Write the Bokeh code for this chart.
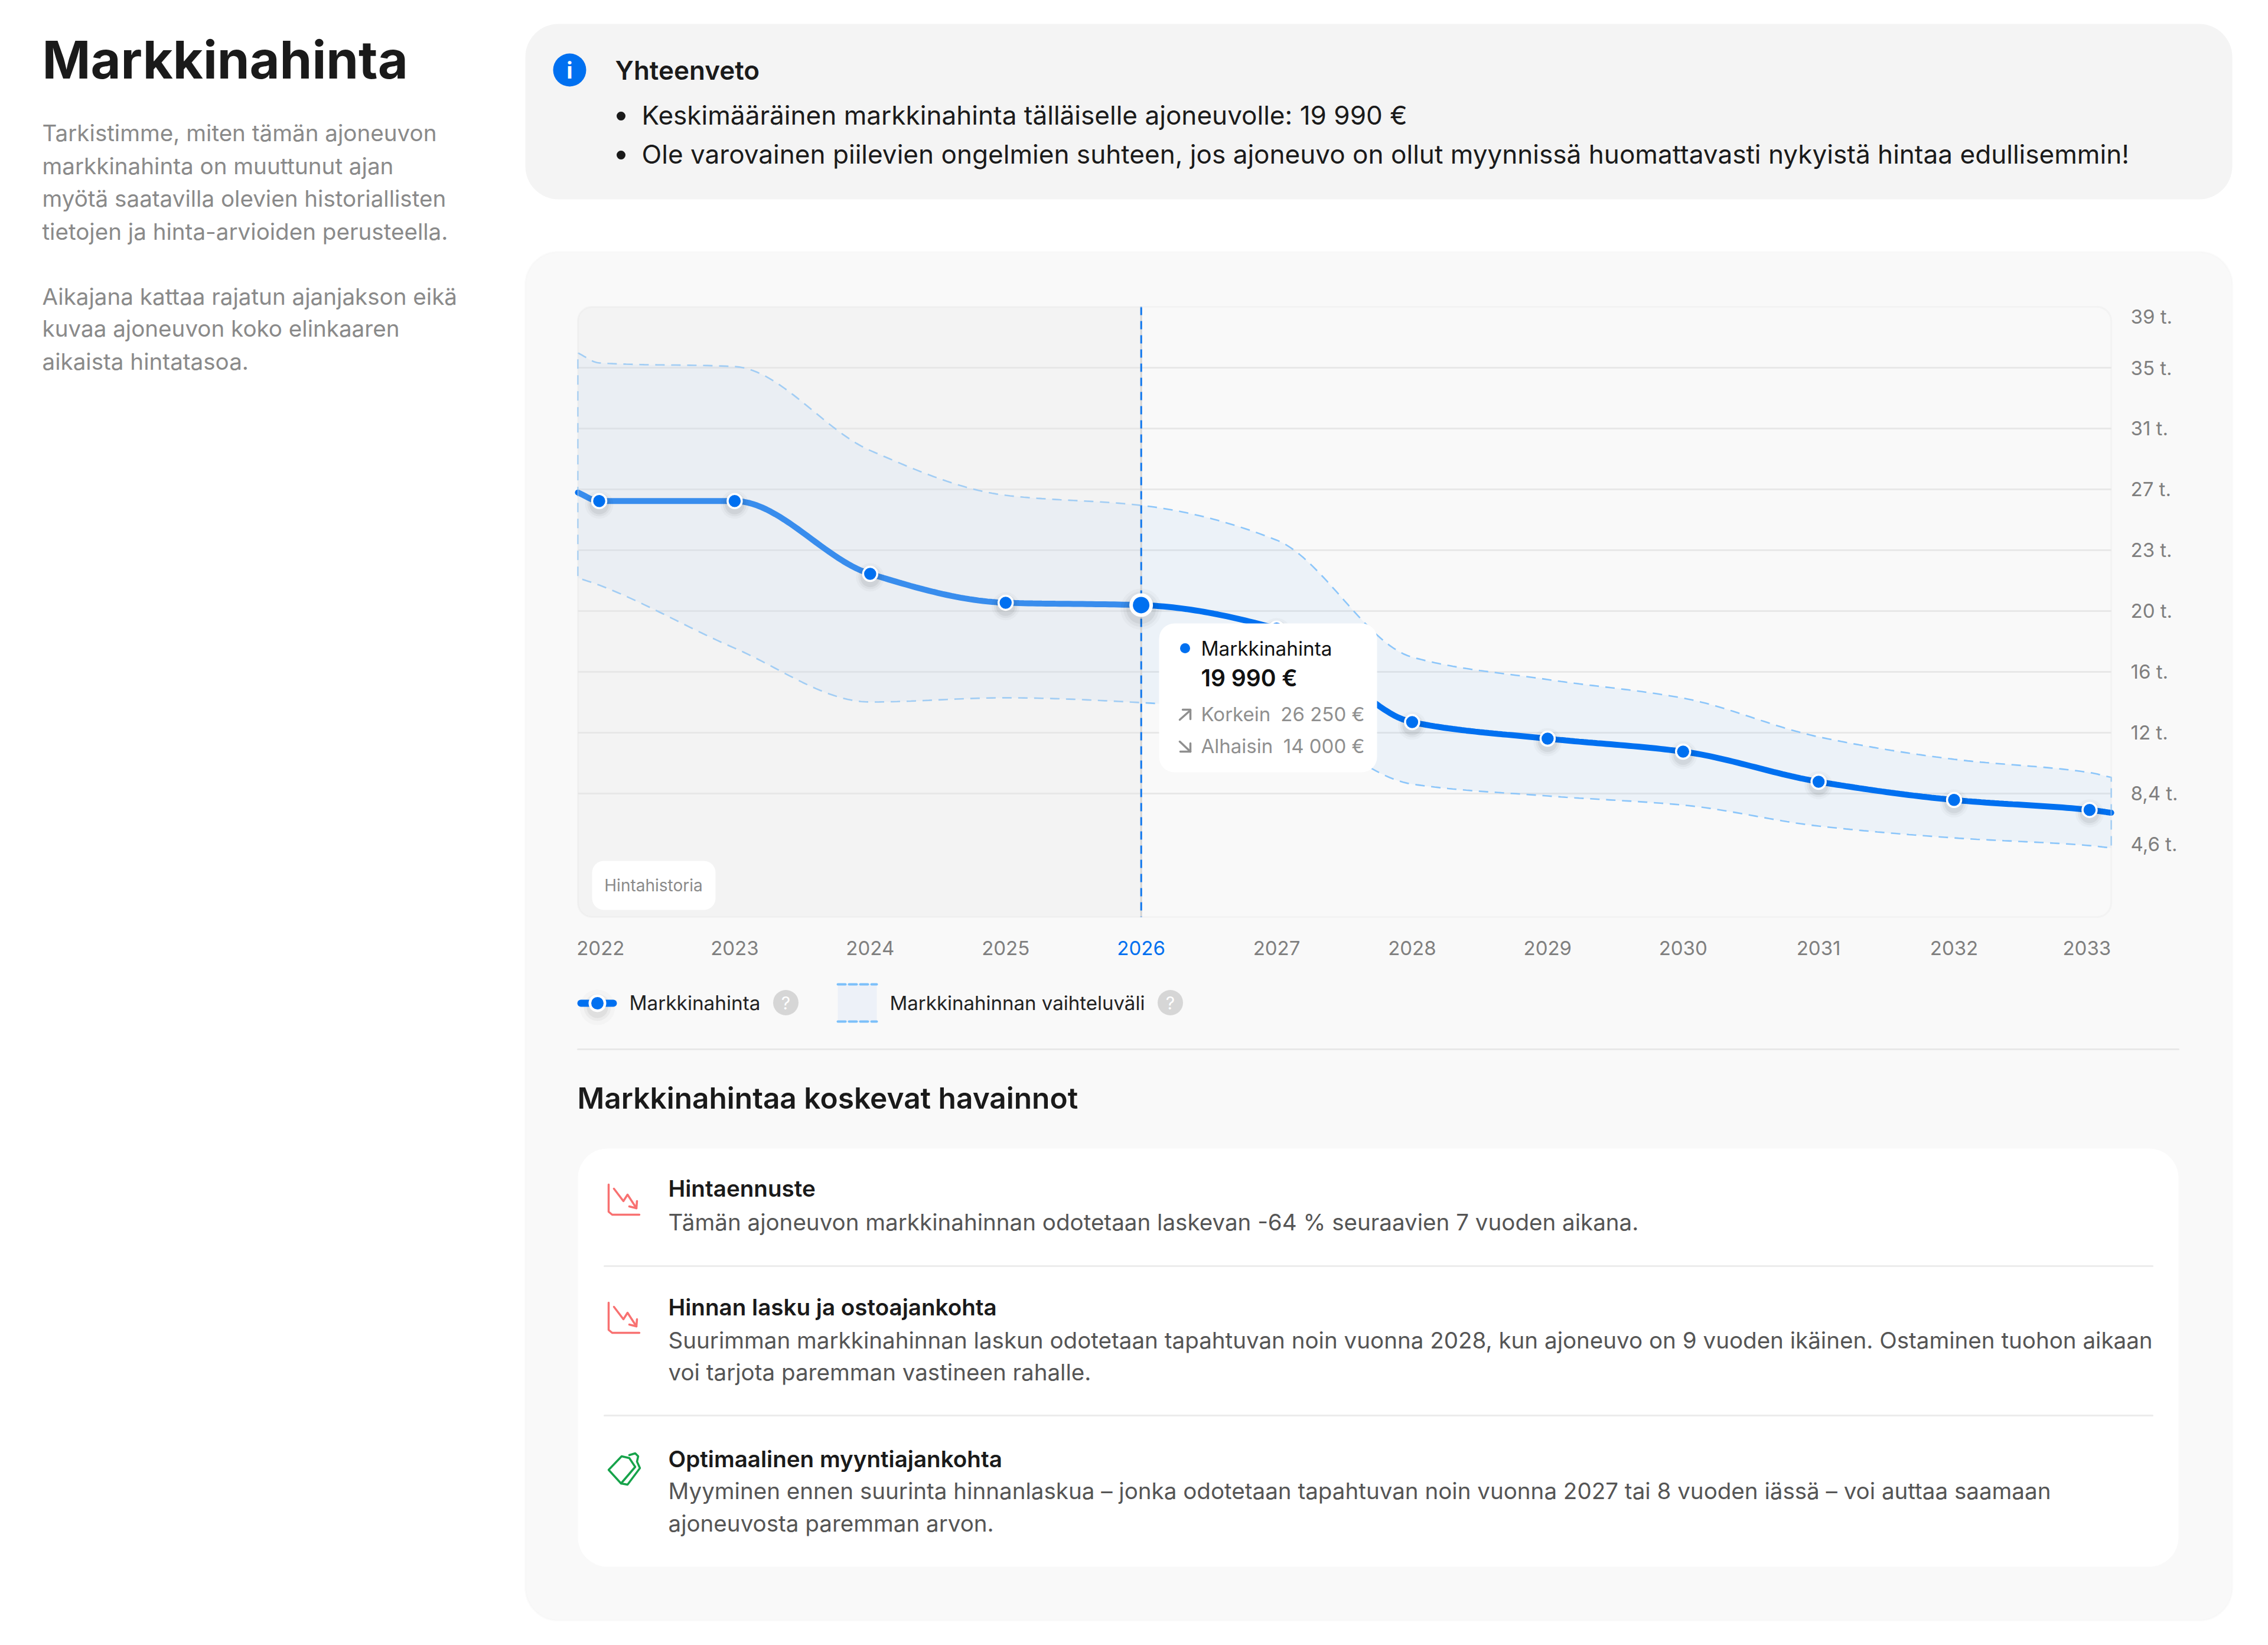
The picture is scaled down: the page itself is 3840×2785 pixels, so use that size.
import numpy as np
from bokeh.core.properties import value
from bokeh.plotting import figure
from bokeh.models import Range1d, LinearAxis, FixedTicker, BoxAnnotation
from bokeh.embed import file_html
from bokeh.resources import INLINE

# ---- chart data (thousand euro) ----
years = [2022, 2023, 2024, 2025, 2026, 2027, 2028, 2029, 2030, 2031, 2032, 2033]
price = [26.67, 26.67, 22.12, 20.32, 20.17, 18.7, 12.86, 11.83, 11.02, 9.14, 8.0, 7.38]
band_high = [35.30, 35.07, 29.83, 27.03, 26.40, 24.23, 16.92, 15.52, 14.36, 11.94, 10.54, 9.71]
band_low = [21.42, 17.48, 14.12, 14.38, 14.08, 13.12, 8.99, 8.25, 7.68, 6.37, 5.63, 5.15]
current_year = 2026
# where each curve meets the frame, left and right of the first and last year
edge_years = [2021.843, 2033.16]
price_edges = [27.2, 7.2]
high_edges = [35.92, 9.41]
low_edges = [21.87, 5.0]

grid_values = [35, 31.2, 27.4, 23.6, 19.8, 16, 12.2, 8.4]
# 39 t. and 4,6 t. labels sit slightly inside the frame in the picture
ytick_values = [38.2, 35, 31.2, 27.4, 23.6, 19.8, 16, 12.2, 8.4, 5.23]
ytick_labels = ["39 t.", "35 t.", "31 t.", "27 t.", "23 t.", "20 t.", "16 t.", "12 t.", "8,4 t.", "4,6 t."]
# the first and last year labels are nudged inside the frame in the picture
xtick_values = [2022.01, 2023, 2024, 2025, 2027, 2028, 2029, 2030, 2031, 2032, 2032.98]
xtick_labels = ["2022", "2023", "2024", "2025", "2027", "2028", "2029", "2030", "2031", "2032", "2033"]

title = "Markkinahinta"
intro = ["Tarkistimme, miten tämän ajoneuvon", "markkinahinta on muuttunut ajan",
         "myötä saatavilla olevien historiallisten", "tietojen ja hinta-arvioiden perusteella."]
intro_ys = [224, 280, 335, 391]
intro2 = ["Aikajana kattaa rajatun ajanjakson eikä", "kuvaa ajoneuvon koko elinkaaren", "aikaista hintatasoa."]
intro2_ys = [501, 555, 611]
summary_head = "Yhteenveto"
summary = ["Keskimääräinen markkinahinta tälläiselle ajoneuvolle: 19 990 €",
           "Ole varovainen piilevien ongelmien suhteen, jos ajoneuvo on ollut myynnissä huomattavasti nykyistä hintaa edullisemmin!"]
legend_a = "Markkinahinta"
legend_b = "Markkinahinnan vaihteluväli"
chip = "Hintahistoria"
tip_title, tip_value = "Markkinahinta", "19 990 €"
tip_high, tip_high_v = "Korkein", "26 250 €"
tip_low, tip_low_v = "Alhaisin", "14 000 €"
findings_head = "Markkinahintaa koskevat havainnot"
findings = [
    ("Hintaennuste", 2011, ["Tämän ajoneuvon markkinahinnan odotetaan laskevan -64 % seuraavien 7 vuoden aikana."], [2068]),
    ("Hinnan lasku ja ostoajankohta", 2212,
     ["Suurimman markkinahinnan laskun odotetaan tapahtuvan noin vuonna 2028, kun ajoneuvo on 9 vuoden ikäinen. Ostaminen tuohon aikaan",
      "voi tarjota paremman vastineen rahalle."], [2268, 2322]),
    ("Optimaalinen myyntiajankohta", 2469,
     ["Myyminen ennen suurinta hinnanlaskua – jonka odotetaan tapahtuvan noin vuonna 2027 tai 8 vuoden iässä – voi auttaa saamaan",
      "ajoneuvosta paremman arvon."], [2523, 2578]),
]

# ---- layout constants (page pixels) ----
W, H = 3824, 2769
BLUE = "#0070f0"
FONT = "Inter"
SEMI = "Inter SemiBold"
L, R, T, B = 978, 3574, 519, 1552
PX_PER_YEAR = 229.4
PX_PER_K = 27.105


def yr(X):
    return 2022 + (X - 1014) / PX_PER_YEAR


def val(Y):
    return 35 - (Y - 622) / PX_PER_K


def smooth(xs, ys, n=30):
    """Monotone cubic drawing of a curve through the read values."""
    xs, ys = np.array(xs, float), np.array(ys, float)
    h = np.diff(xs)
    d = np.diff(ys) / h
    m = np.zeros(len(xs))
    m[0], m[-1] = d[0], d[-1]
    for i in range(1, len(xs) - 1):
        if d[i - 1] * d[i] > 0:
            m[i] = 3 * (h[i - 1] + h[i]) / ((2 * h[i] + h[i - 1]) / d[i - 1] + (h[i] + 2 * h[i - 1]) / d[i])
    ox, oy = [], []
    for i in range(len(h)):
        for t in np.linspace(0, 1, n, endpoint=False):
            a = (1 + 2 * t) * (1 - t) ** 2
            b = t * (1 - t) ** 2
            c = t * t * (3 - 2 * t)
            e = t * t * (t - 1)
            ox.append(float(xs[i] + t * h[i]))
            oy.append(float(a * ys[i] + b * h[i] * m[i] + c * ys[i + 1] + e * h[i] * m[i + 1]))
    ox.append(float(xs[-1]))
    oy.append(float(ys[-1]))
    return ox, oy


def with_edges(series, edges):
    return [edge_years[0]] + years + [edge_years[1]], [edges[0]] + series + [edges[1]]


p = figure(width=W, height=H, output_backend="svg", toolbar_location=None,
           x_range=Range1d(yr(0), yr(W)), y_range=Range1d(val(H), val(0)),
           x_axis_type=None, y_axis_type=None, min_border=0,
           outline_line_color=None, background_fill_color="white", border_fill_color="white")
p.grid.visible = False
p.extra_x_ranges["page"] = Range1d(0, W)
p.extra_y_ranges["page"] = Range1d(H, 0)
PG = dict(x_range_name="page", y_range_name="page")


def box(x0, y0, x1, y1, fill, radius=0, line=None, lw=0, level="image", alpha=1.0):
    p.add_layout(BoxAnnotation(left=x0, right=x1, top=y0, bottom=y1, fill_color=fill, fill_alpha=alpha,
                               line_color=line, line_width=lw, border_radius=radius, level=level,
                               editable=False, **PG))


def text(x, y, s, size, color, style="normal", align="left", level="overlay", font=FONT):
    p.text(x=[x], y=[y], text=[s], text_font=value(font), text_font_size=f"{size}px", text_color=color,
           text_font_style=style, text_align=align, text_baseline="middle", level=level, **PG)


def lines(xs, ys, color, lw=3, level="overlay", dash="solid"):
    p.line(xs, ys, line_color=color, line_width=lw, level=level, line_dash=dash,
           line_cap="round", line_join="round", **PG)


def dot(x, y, d, color, level="overlay", alpha=1.0):
    p.scatter([x], [y], size=d, fill_color=color, fill_alpha=alpha, line_color=None, level=level, **PG)


# ---- cards ----
box(889, 40, 3779, 337, "#f4f4f4", radius=56)
box(889, 426, 3779, 2743, "#f9f9f9", radius=56, line="#f3f3f3", lw=3)
box(978, 1944, 3688, 2652, "#ffffff", radius=50)

# ---- grid ----
p.segment([yr(L)] * len(grid_values), grid_values, [yr(R)] * len(grid_values), grid_values,
          line_color="#e8e8e8", line_width=3, level="underlay")

# ---- band ----
hx, hy = smooth(*with_edges(band_high, high_edges))
lx, ly = smooth(*with_edges(band_low, low_edges))
px = hx + lx[::-1]
py = hy + ly[::-1]
p.patch(px, py, fill_color=BLUE, fill_alpha=0.05, line_color=None, level="underlay")
p.line(px + px[:1], py + py[:1], line_color="#8cc6fa", line_width=2.6, line_dash=[16, 11], level="underlay")

# ---- price line ----
cx, cy = smooth(*with_edges(price, price_edges))
p.line(cx, cy, line_color=BLUE, line_width=10, line_cap="round", level="underlay")

# ---- history shade over the past part, frame outline on top ----
box(L, T, 1931, B, "#e2e2e2", radius=(24, 0, 0, 24), level="glyph", alpha=0.25)
box(L, T, R, B, None, radius=24, line="#e6e6e6", lw=3, level="glyph")

# ---- current-year rule ----
p.line([current_year] * 2, [val(T), val(B)], line_color="#d4d4d4", line_width=3, level="glyph")
p.line([current_year] * 2, [val(T), val(B)], line_color=BLUE, line_width=3, line_dash=[14, 10], level="glyph")

# ---- markers ----
others_x = [x for x in years if x != current_year]
others_y = [v for x, v in zip(years, price) if x != current_year]
now_y = [v for x, v in zip(years, price) if x == current_year]
for size, alpha in ((48, 0.025), (40, 0.035), (33, 0.05)):
    p.scatter(others_x, [v - 0.22 for v in others_y], size=size, fill_color="#000000", fill_alpha=alpha,
              line_color=None, level="guide")
for size, alpha in ((70, 0.025), (60, 0.035), (50, 0.05)):
    p.scatter([current_year], [now_y[0] - 0.25], size=size, fill_color="#000000", fill_alpha=alpha,
              line_color=None, level="guide")
p.scatter(others_x, others_y, size=24, fill_color=BLUE, line_color="white", line_width=3.5, level="guide")
p.scatter([current_year], now_y, size=34, fill_color=BLUE, line_color="white", line_width=6, level="guide")

# ---- axes ----
common = dict(axis_line_color=None, major_tick_line_color=None, minor_tick_line_color=None,
              major_label_text_font=FONT, major_label_text_font_size="33px")
xaxis = LinearAxis(fixed_location=val(B), ticker=FixedTicker(ticks=xtick_values),
                   major_label_overrides=dict(zip(xtick_values, xtick_labels)),
                   major_label_text_color="#7f7f7f", major_label_standoff=34, **common)
p.add_layout(xaxis, "below")
now_axis = LinearAxis(fixed_location=val(B), ticker=FixedTicker(ticks=[current_year]),
                      major_label_overrides={current_year: str(current_year)},
                      major_label_text_color=BLUE, major_label_standoff=34, **common)
p.add_layout(now_axis, "below")
yaxis = LinearAxis(fixed_location=yr(R), ticker=FixedTicker(ticks=ytick_values),
                   major_label_overrides=dict(zip(ytick_values, ytick_labels)),
                   major_label_text_color="#7f7f7f", major_label_standoff=27, **common)
p.add_layout(yaxis, "right")

# ---- left column ----
text(71, 100, title, 88, "#1a1a1a", "bold")
for s, y in zip(intro, intro_ys):
    text(71, y, s, 38.6, "#8a8a8a")
for s, y in zip(intro2, intro2_ys):
    text(71, y, s, 38.6, "#8a8a8a")

# ---- summary ----
dot(964, 118, 56, BLUE)
text(964, 118, "i", 38, "white", "bold", "center")
text(1041, 118, summary_head, 44, "#1a1a1a", font=SEMI)
for s, y in zip(summary, (194, 260)):
    dot(1051, y + 2, 15, "#1a1a1a")
    text(1086, y, s, 44.1, "#1a1a1a")

# ---- chip ----
box(1002, 1457, 1211, 1540, "#ffffff", radius=20, level="annotation")
text(1106, 1498, chip, 28, "#8a8a8a", align="center")

# ---- tooltip ----
box(1962, 1055, 2331, 1307, "#ffffff", radius=26, level="annotation")
dot(2006, 1097, 17, BLUE)
text(2033, 1097, tip_title, 33.3, "#111111")
text(2033, 1147, tip_value, 39, "#111111", font=SEMI)
text(2033, 1208, tip_high, 33, "#8f8f8f")
text(2310, 1208, tip_high_v, 33, "#8f8f8f", align="right")
text(2033, 1262, tip_low, 33, "#8f8f8f")
text(2310, 1262, tip_low_v, 33, "#8f8f8f", align="right")
lines([1997, 2015], [1218, 1202], "#8f8f8f", 3.5)
lines([2002, 2015, 2015], [1201, 1201, 1217], "#8f8f8f", 3.5)
lines([1997, 2015], [1255, 1272], "#8f8f8f", 3.5)
lines([2015, 2015, 1998], [1258, 1272, 1272], "#8f8f8f", 3.5)

# ---- legend ----
for size, alpha in ((60, 0.02), (46, 0.035), (36, 0.05)):
    dot(1011, 1705, size, "#000000", alpha=alpha)
lines([983, 1038], [1698, 1698], BLUE, 12)
dot(1011, 1698, 30, "white")
dot(1011, 1698, 21, BLUE)
text(1065, 1697, legend_a, 33.3, "#222222")
dot(1330, 1697, 43, "#d6d6d6")
text(1330, 1697, "?", 30, "white", align="center")
box(1418, 1665, 1484, 1730, "#edf1f8", level="annotation")
lines([1418, 1484], [1666, 1666], "#7cc0fa", 4, dash=[13, 6])
lines([1418, 1484], [1729, 1729], "#7cc0fa", 4, dash=[13, 6])
text(1506, 1697, legend_b, 33, "#222222")
dot(1981, 1697, 43, "#d6d6d6")
text(1981, 1697, "?", 30, "white", align="center")

# ---- separator + findings ----
lines([978, 3688], [1776, 1776], "#e8e8e8", 3)
text(977, 1858, findings_head, 49.6, "#1a1a1a", font=SEMI)
for head, hy_, body, bys in findings:
    text(1131, hy_, head, 38.6, "#1a1a1a", font=SEMI)
    for s, y in zip(body, bys):
        text(1131, y, s, 38.55, "#555555")
lines([1023, 3644], [2143, 2143], "#ececec", 3)
lines([1023, 3644], [2396, 2396], "#ececec", 3)

# icons
RED = "#f87171"
for oy in (2004, 2204):
    lines([1030, 1030, 1036, 1082], [oy + 1, oy + 47, oy + 52, oy + 52], RED, 3.5)
    lines([1039, 1055, 1062, 1077], [oy + 8, oy + 29, oy + 18, oy + 41], RED, 3.5)
    lines([1078, 1077, 1065], [oy + 29, oy + 41, oy + 38], RED, 3.5)
GREEN = "#16a34a"
gx, gy = 1029, 2460
lines([gx + 1, gx + 23, gx + 36, gx + 46, gx + 22, gx + 1], [gy + 28, gy + 5, gy + 8, gy + 23, gy + 51, gy + 28], GREEN, 3.5)
lines([gx + 36, gx + 46, gx + 51, gx + 49, gx + 54, gx + 33, gx + 22],
      [gy + 3, gy + 0, gy + 5, gy + 14, gy + 25, gy + 53, gy + 51], GREEN, 3.5)

open("out.html", "w").write(file_html(p, INLINE))
